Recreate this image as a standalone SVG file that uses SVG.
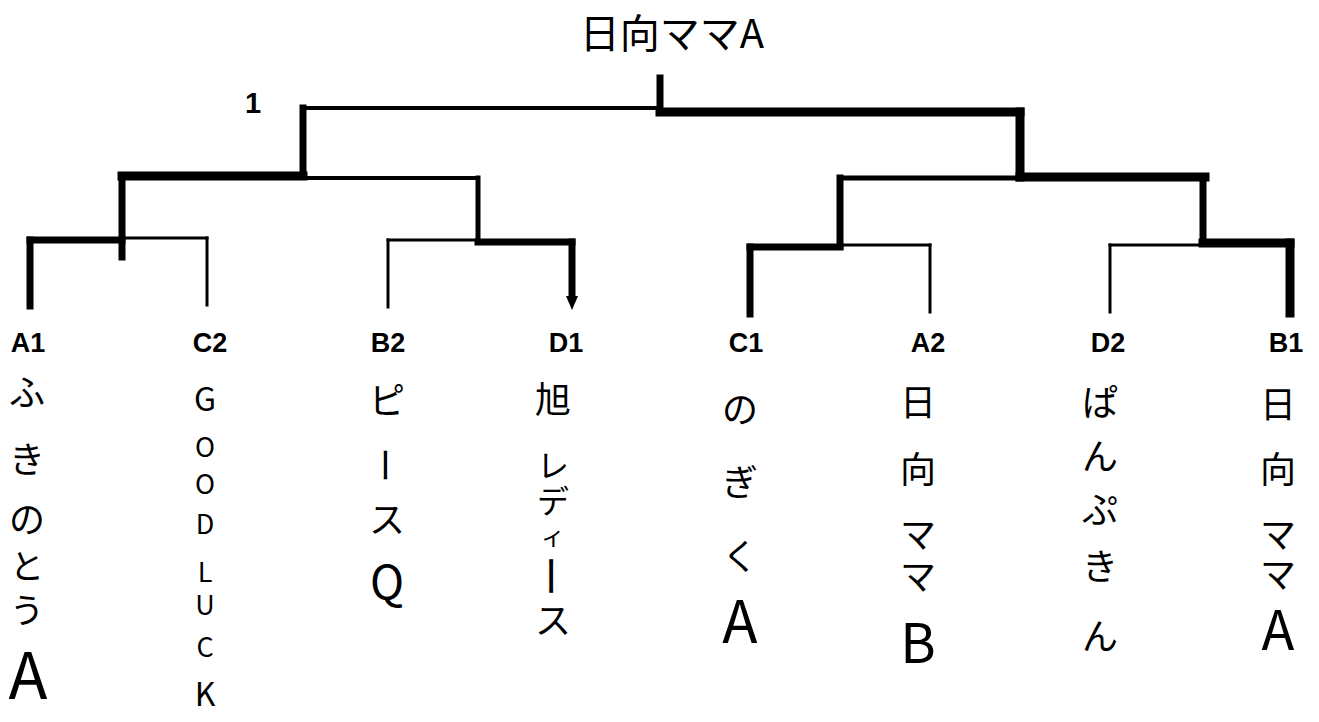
<svg xmlns="http://www.w3.org/2000/svg" width="1319" height="722" viewBox="0 0 1319 722">
<style>
.bg{fill:#ffffff}
.ln{fill:none;stroke:#000;stroke-linecap:square}
.t1{stroke-width:3}
.t2{stroke-width:5}
.t3{stroke-width:7}
.t4{stroke-width:9}
.lab{font-family:"Liberation Sans",Arial,sans-serif;font-weight:bold;font-size:27px;fill:#000;text-anchor:middle}
.hw{font-family:"Noto Sans CJK JP","Noto Sans",sans-serif;font-size:36px;fill:#000;text-anchor:middle}
.ttl{font-size:40px}
.rot{dominant-baseline:central}
</style>
<rect class="bg" x="0" y="0" width="1319" height="722"/>
<g id="connectors">
  <path class="ln t3" d="M660 78 V110"/>
  <path class="ln" style="stroke-width:4" d="M303 108 H660"/>
  <path class="ln t4" d="M660 112 H1020"/>
  <path class="ln t3" d="M303 108 V176"/>
  <path class="ln t4" d="M1020 112 V177"/>
  <path class="ln t4" d="M122 176 H303"/>
  <path class="ln" style="stroke-width:4" d="M303 178 H478"/>
  <path class="ln t2" d="M478 178 V240"/>
  <path class="ln t3" d="M122 176 V257"/>
  <path class="ln t3" d="M30 240 H122"/>
  <path class="ln t1" d="M122 238 H207"/>
  <path class="ln t3" d="M30 240 V306"/>
  <path class="ln t1" d="M207 238 V305"/>
  <path class="ln t1" d="M388 240 H478"/>
  <path class="ln t3" d="M478 242 H572"/>
  <path class="ln t1" d="M388 240 V307"/>
  <path class="ln t3" d="M572 242 V298"/>
  <polygon points="566,296 578,296 572,310" fill="#000"/>
  <path class="ln t2" d="M840 178 H1020"/>
  <path class="ln t4" d="M1020 177 H1205"/>
  <path class="ln t3" d="M840 178 V246"/>
  <path class="ln t3" d="M1203 177 V243"/>
  <path class="ln t3" d="M750 247 H840"/>
  <path class="ln t1" d="M840 245 H930"/>
  <path class="ln t3" d="M750 247 V314"/>
  <path class="ln t1" d="M930 245 V312"/>
  <path class="ln t1" d="M1110 245 H1203"/>
  <path class="ln t4" d="M1203 243 H1290"/>
  <path class="ln t1" d="M1110 245 V312"/>
  <path class="ln t4" d="M1290 243 V313"/>
</g>
<g id="champion">
  <text class="hw ttl" x="672" y="48">日向ママA</text>
</g>
<g id="mark-1">
  <text class="lab" x="253" y="113" style="font-size:29px">1</text>
</g>
<g id="node-A1">
  <text class="lab" x="28" y="352">A1</text>
  <text class="hw">
    <tspan x="27" y="406">ふ</tspan><tspan x="27" y="473">き</tspan><tspan x="27" y="533">の</tspan><tspan x="27" y="579" style="font-size:34px">と</tspan><tspan x="27" y="623" style="font-size:34px">う</tspan><tspan x="28" y="699" style="font-size:64px">A</tspan>
  </text>
</g>
<g id="node-C2">
  <text class="lab" x="210" y="352">C2</text>
  <text class="hw" style="font-size:27px">
    <tspan x="205" y="411" style="font-size:32px">G</tspan><tspan x="205" y="457">O</tspan><tspan x="205" y="494">O</tspan><tspan x="205" y="534">D</tspan><tspan x="205" y="582">L</tspan><tspan x="205" y="615">U</tspan><tspan x="205" y="657">C</tspan><tspan x="205" y="706" style="font-size:32px">K</tspan>
  </text>
</g>
<g id="node-B2">
  <text class="lab" x="388" y="352">B2</text>
  <text class="hw">
    <tspan x="387" y="414">ピ</tspan><tspan x="387" y="533">ス</tspan><tspan x="387" y="599" style="font-size:46px">Q</tspan>
  </text>
  <text class="hw rot" transform="translate(387,465) rotate(90)">ー</text>
</g>
<g id="node-D1">
  <text class="lab" x="566" y="352">D1</text>
  <text class="hw">
    <tspan x="553" y="413">旭</tspan><tspan x="553" y="477" style="font-size:32px">レ</tspan><tspan x="553" y="513" style="font-size:32px">デ</tspan><tspan x="553" y="545" style="font-size:24px">ィ</tspan><tspan x="553" y="634">ス</tspan>
  </text>
  <text class="hw rot" transform="translate(553,576) rotate(90)" style="font-size:42px">ー</text>
</g>
<g id="node-C1">
  <text class="lab" x="746" y="352">C1</text>
  <text class="hw">
    <tspan x="740" y="423">の</tspan><tspan x="740" y="496">ぎ</tspan><tspan x="740" y="570">く</tspan><tspan x="740" y="643" style="font-size:58px">A</tspan>
  </text>
</g>
<g id="node-A2">
  <text class="lab" x="928" y="352">A2</text>
  <text class="hw">
    <tspan x="918" y="416">日</tspan><tspan x="918" y="483">向</tspan><tspan x="918" y="548">マ</tspan><tspan x="918" y="590">マ</tspan><tspan x="918" y="663" style="font-size:54px">B</tspan>
  </text>
</g>
<g id="node-D2">
  <text class="lab" x="1108" y="352">D2</text>
  <text class="hw">
    <tspan x="1100" y="416">ぱ</tspan><tspan x="1100" y="470">ん</tspan><tspan x="1100" y="523">ぷ</tspan><tspan x="1100" y="580">き</tspan><tspan x="1100" y="650">ん</tspan>
  </text>
</g>
<g id="node-B1">
  <text class="lab" x="1286" y="352">B1</text>
  <text class="hw">
    <tspan x="1278" y="418">日</tspan><tspan x="1278" y="483">向</tspan><tspan x="1278" y="548">マ</tspan><tspan x="1278" y="588">マ</tspan><tspan x="1278" y="650" style="font-size:54px">A</tspan>
  </text>
</g>
</svg>
